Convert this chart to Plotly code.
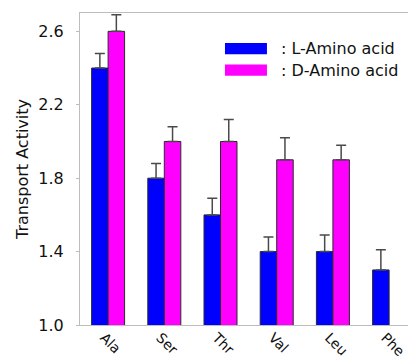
import plotly.graph_objects as go

# Amino acids tested and mean transport activity (with upper error) per isomer
amino_acids = ["Ala", "Ser", "Thr", "Val", "Leu", "Phe"]
l_activity = [2.40, 1.80, 1.60, 1.40, 1.40, 1.30]
l_error = [0.08, 0.08, 0.09, 0.08, 0.09, 0.11]
d_activity = [2.60, 2.00, 2.00, 1.90, 1.90, None]
d_error = [0.09, 0.08, 0.12, 0.12, 0.08, None]
y_ticks = [1.0, 1.4, 1.8, 2.2, 2.6]

series_names = [": L-Amino acid", ": D-Amino acid"]
blue = "#0000FF"
magenta = "#FF00FF"
font_family = "DejaVu Sans, Arial, sans-serif"

fig = go.Figure()


def add_series(values, errors, color):
    fig.add_trace(go.Bar(
        x=amino_acids,
        y=values,
        base=0,
        marker=dict(color=color, line=dict(color="#2a2a2a", width=1)),
        error_y=dict(
            type="data",
            symmetric=False,
            array=[e if e is not None else 0 for e in errors],
            arrayminus=[0] * len(errors),
            color="#4a4a4a",
            thickness=1.5,
            width=5,
        ),
        showlegend=False,
    ))


add_series(l_activity, l_error, blue)
add_series(d_activity, d_error, magenta)

# Legend drawn as wide colour swatches with text labels
legend_rows = [(series_names[0], blue, 0.886), (series_names[1], magenta, 0.817)]
for label, color, yc in legend_rows:
    fig.add_shape(
        type="rect", xref="paper", yref="paper",
        x0=0.442, x1=0.570, y0=yc - 0.018, y1=yc + 0.018,
        fillcolor=color, line=dict(width=0),
    )
    fig.add_annotation(
        xref="paper", yref="paper", x=0.608, y=yc,
        text=label, showarrow=False, xanchor="left", yanchor="middle",
        font=dict(family=font_family, size=16, color="#111111"),
    )

fig.update_layout(
    width=408,
    height=361,
    margin=dict(l=80, r=0, t=13, b=36, autoexpand=False),
    paper_bgcolor="white",
    plot_bgcolor="white",
    barmode="group",
    bargap=0.413,
    bargroupgap=0,
    font=dict(family=font_family, size=16, color="#111111"),
)

fig.update_xaxes(
    range=[-0.5, 5.336],
    automargin=False,
    showline=True, linecolor="#bdbdbd", linewidth=1, mirror=True,
    ticks="", tickangle=45,
    ticklabelshift=-4,
    ticklabelstandoff=-2,
    tickfont=dict(family=font_family, size=14, color="#111111"),
    showgrid=False, zeroline=False,
)

fig.update_yaxes(
    range=[1.0, 2.70],
    automargin=False,
    tickvals=y_ticks,
    tickformat=".1f",
    showline=True, linecolor="#bdbdbd", linewidth=1,
    ticks="outside", ticklen=3, tickcolor="#bdbdbd",
    ticklabelstandoff=9,
    tickfont=dict(family=font_family, size=16, color="#111111"),
    title=dict(text="Transport Activity", standoff=5,
               font=dict(family=font_family, size=16, color="#111111")),
    showgrid=False, zeroline=False,
)

fig.write_html("out.html")
